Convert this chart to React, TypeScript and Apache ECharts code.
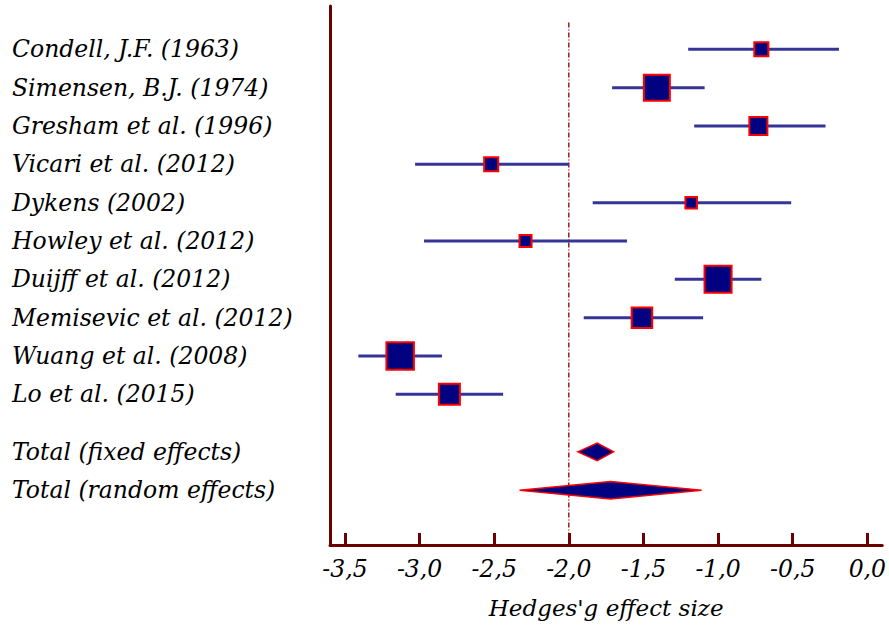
import React, { useEffect, useRef } from "react";
import * as echarts from "echarts";

const studies = [
  "Condell, J.F. (1963)",
  "Simensen, B.J. (1974)",
  "Gresham et al. (1996)",
  "Vicari et al. (2012)",
  "Dykens (2002)",
  "Howley et al. (2012)",
  "Duijff et al. (2012)",
  "Memisevic et al. (2012)",
  "Wuang et al. (2008)",
  "Lo et al. (2015)",
];
const effect = [-0.71, -1.41, -0.73, -2.52, -1.18, -2.29, -1.0, -1.51, -3.13, -2.8];
const lower = [-1.2, -1.71, -1.16, -3.03, -1.84, -2.97, -1.29, -1.9, -3.41, -3.16];
const upper = [-0.19, -1.09, -0.28, -2.0, -0.51, -1.61, -0.71, -1.1, -2.85, -2.44];
const weights = [4.9, 16.8, 8.1, 4.9, 3.3, 3.6, 18.2, 10.5, 18.8, 11.0];

const totals = ["Total (fixed effects)", "Total (random effects)"];
const totalEffect = [-1.81, -1.72];
const totalLower = [-1.94, -2.33];
const totalUpper = [-1.7, -1.11];

const xTicks = [-3.5, -3.0, -2.5, -2.0, -1.5, -1.0, -0.5, 0.0];
const nullLine = -2.0;

const AXIS_COLOR = "#6b0000";
const FONT = "DejaVu Serif";

export default function App() {
  const ref = useRef<HTMLDivElement>(null);
  useEffect(() => {
    if (!ref.current) return;
    const chart = echarts.init(ref.current, null, { renderer: "svg" });
    const studyRows = studies.map((_, i) => i);
    const totalRows = totals.map((_, i) => studies.length + 0.5 + i);
    const allRows = [...studyRows, ...totalRows];
    const allNames = [...studies, ...totals];

    const labelFor = (v: number) => {
      const idx = allRows.findIndex((r) => Math.abs(r - v) < 1e-6);
      return idx >= 0 ? allNames[idx] : "";
    };

    const textStyle = {
      fontFamily: FONT,
      fontStyle: "italic" as const,
      fontSize: 23.5,
      color: "#000",
    };

    chart.setOption({
      animation: false,
      grid: { left: 330, right: 3, top: 6, bottom: 83 },
      xAxis: {
        type: "value",
        min: -3.6,
        max: 0.1,
        name: "Hedges'g effect size",
        nameLocation: "middle",
        nameGap: 51,
        nameTextStyle: { ...textStyle, fontSize: 23 },
        axisLine: { onZero: false, lineStyle: { color: AXIS_COLOR, width: 3 } },
        axisTick: {
          show: true,
          inside: true,
          length: 12,
          customValues: xTicks,
          lineStyle: { color: AXIS_COLOR, width: 3 },
        },
        axisLabel: {
          ...textStyle,
          margin: 12,
          customValues: xTicks,
          formatter: (v: number) => v.toFixed(1).replace(".", ","),
        },
        splitLine: { show: false },
      },
      yAxis: {
        type: "value",
        inverse: true,
        min: -1.13,
        max: 12.93,
        axisLine: { show: true, onZero: false, lineStyle: { color: AXIS_COLOR, width: 3 } },
        axisTick: { show: false },
        splitLine: { show: false },
        axisLabel: {
          ...textStyle,
          align: "left",
          margin: 318,
          customValues: allRows,
          formatter: (v: number) => labelFor(v),
        },
      },
      series: [
        {
          type: "custom",
          silent: true,
          data: [[nullLine, -0.7, 12.93]],
          renderItem: (params: any, api: any) => {
            const p1 = api.coord([api.value(0), api.value(1)]);
            const p2 = api.coord([api.value(0), api.value(2)]);
            return {
              type: "line",
              shape: { x1: p1[0], y1: p1[1], x2: p2[0], y2: p2[1] },
              style: { stroke: "#8b0000", lineWidth: 1.3, lineDash: [5, 2, 1, 2] },
            };
          },
        },
        {
          type: "custom",
          silent: true,
          data: studies.map((_, i) => [lower[i], upper[i], studyRows[i]]),
          renderItem: (params: any, api: any) => {
            const p1 = api.coord([api.value(0), api.value(2)]);
            const p2 = api.coord([api.value(1), api.value(2)]);
            return {
              type: "line",
              shape: { x1: p1[0], y1: p1[1], x2: p2[0], y2: p2[1] },
              style: { stroke: "#353598", lineWidth: 3 },
            };
          },
        },
        {
          type: "scatter",
          silent: true,
          symbol: "rect",
          data: studies.map((_, i) => ({
            value: [effect[i], studyRows[i]],
            symbolSize: 6.34 * Math.sqrt(weights[i]),
          })),
          itemStyle: { color: "#000080", borderColor: "#ff0000", borderWidth: 2, opacity: 1 },
        },
        {
          type: "custom",
          silent: true,
          data: totals.map((_, i) => [totalLower[i], totalEffect[i], totalUpper[i], totalRows[i]]),
          renderItem: (params: any, api: any) => {
            const r = api.value(3);
            const pl = api.coord([api.value(0), r]);
            const pc = api.coord([api.value(1), r]);
            const pr = api.coord([api.value(2), r]);
            const h = 8.8;
            return {
              type: "polygon",
              shape: {
                points: [
                  [pl[0], pl[1]],
                  [pc[0], pc[1] - h],
                  [pr[0], pr[1]],
                  [pc[0], pc[1] + h],
                ],
              },
              style: { fill: "#000080", stroke: "#ff0000", lineWidth: 1.5 },
            };
          },
        },
      ],
    });
    return () => chart.dispose();
  }, []);
  return (
    <div
      ref={ref}
      style={{ position: "absolute", left: 0, top: 0, width: 889, height: 628 }}
    />
  );
}
